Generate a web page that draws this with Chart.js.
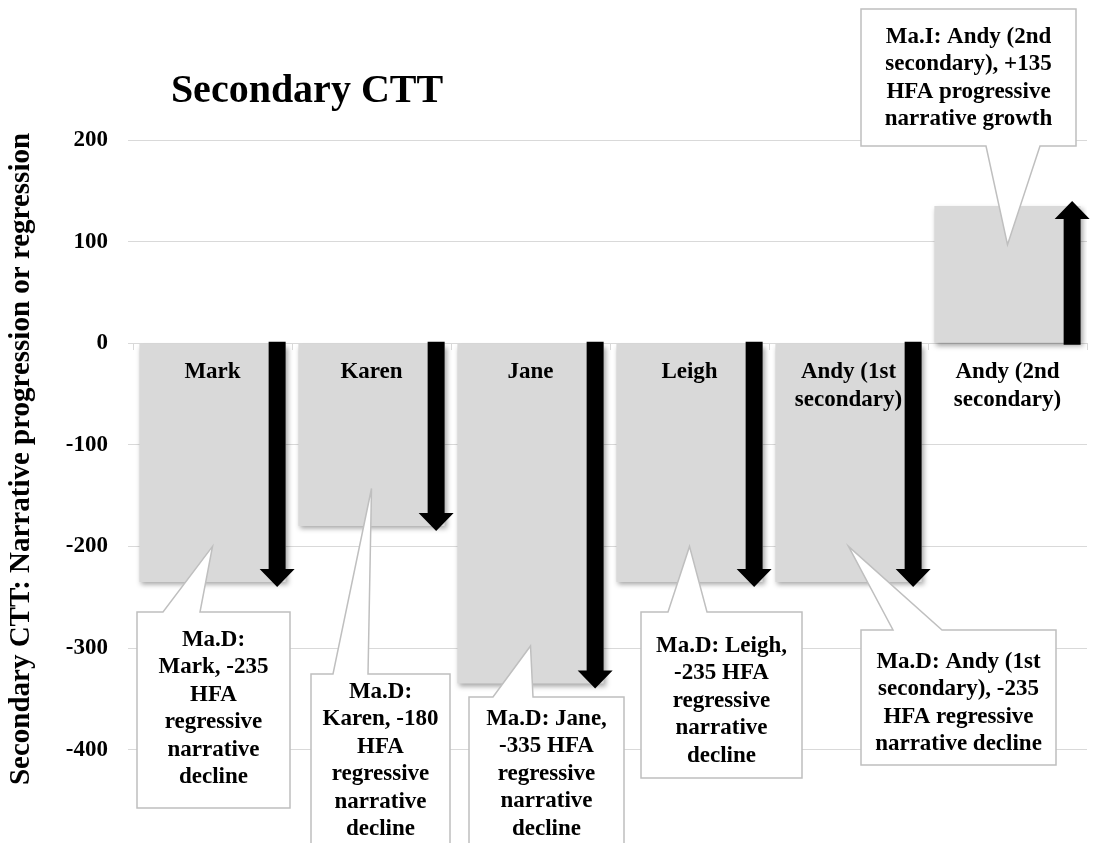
<!DOCTYPE html>
<html lang="en">
<head>
<meta charset="utf-8">
<title>Secondary CTT</title>
<script src="https://cdn.jsdelivr.net/npm/chart.js@4/dist/chart.umd.min.js"></script>
<style>
    html, body { margin: 0; padding: 0; background: #ffffff; overflow: hidden; }
    .chart-wrap { position: relative; width: 1093px; height: 885px; }
</style>
</head>
<body>
<div class="chart-wrap"><canvas id="cttChart"></canvas></div>
<script>
'use strict';

// Chart data
const categories = [
    ['Mark'],
    ['Karen'],
    ['Jane'],
    ['Leigh'],
    ['Andy (1st', 'secondary)'],
    ['Andy (2nd', 'secondary)']
];
const hfaValues = [-235, -180, -335, -235, -235, 135];
const yMin = -500;
const yMax = 200;
const yStep = 100;

const chartTitle = 'Secondary CTT';
const yAxisTitle = 'Secondary CTT: Narrative progression or regression';

// Callout texts, one list of lines per person
const calloutTexts = [
    ['Ma.D:', 'Mark, -235', 'HFA', 'regressive', 'narrative', 'decline'],
    ['Ma.D:', 'Karen, -180', 'HFA', 'regressive', 'narrative', 'decline'],
    ['Ma.D: Jane,', '-335 HFA', 'regressive', 'narrative', 'decline'],
    ['Ma.D: Leigh,', '-235 HFA', 'regressive', 'narrative', 'decline'],
    ['Ma.D: Andy (1st', 'secondary), -235', 'HFA regressive', 'narrative decline'],
    ['Ma.I: Andy (2nd', 'secondary), +135', 'HFA progressive', 'narrative growth']
];
// Where each callout points to, in data units
const calloutTipValues = [-200, -143, -298, -200, -200, 97];

// Callout box placement (pixels)
const calloutBoxes = [
    { x: 137, y: 612, w: 153, h: 196, side: 'top', b1: 163, b2: 200, textY: 640 },
    { x: 311, y: 674, w: 139, h: 300, side: 'top', b1: 333, b2: 368, textY: 692 },
    { x: 469, y: 697, w: 155, h: 300, side: 'top', b1: 493, b2: 533, textY: 719 },
    { x: 641, y: 612, w: 161, h: 166, side: 'top', b1: 668, b2: 707, textY: 646 },
    { x: 861, y: 630, w: 195, h: 135, side: 'top', b1: 893, b2: 942, textY: 662 },
    { x: 861, y: 9, w: 215, h: 137, side: 'bottom', b1: 986, b2: 1040, textY: 37 }
];

const FONT = "'Liberation Serif', 'Times New Roman', serif";
const TEXT_SIZE = 23;
const LINE_H = 27.5;

Chart.defaults.font.family = FONT;
Chart.defaults.color = '#000000';

/**
 * Chart title and rotated y axis title, drawn at fixed spots like the original
 */
const titlePlugin = {
    id: 'cttTitles',
    afterDraw(chart) {
        const ctx = chart.ctx;
        ctx.save();
        ctx.fillStyle = '#000000';
        ctx.textAlign = 'center';
        ctx.textBaseline = 'middle';
        ctx.font = `bold 40px ${FONT}`;
        ctx.fillText(chartTitle, 307, 92);

        ctx.translate(22, 459);
        ctx.rotate(-Math.PI / 2);
        ctx.font = `bold 29px ${FONT}`;
        ctx.fillText(yAxisTitle, 0, 0);
        ctx.restore();
    }
};

/**
 * Draw a block arrow from the zero line to the end of the bar
 */
function drawArrow(ctx, xRight, yStart, yTip) {
    const dir = yTip > yStart ? 1 : -1;
    const shaftW = 17;
    const headW = 35;
    const headL = 18;
    const cx = xRight - shaftW / 2;
    const headBase = yTip - dir * headL;

    ctx.beginPath();
    ctx.moveTo(cx - shaftW / 2, yStart);
    ctx.lineTo(cx + shaftW / 2, yStart);
    ctx.lineTo(cx + shaftW / 2, headBase);
    ctx.lineTo(cx + headW / 2, headBase);
    ctx.lineTo(cx, yTip);
    ctx.lineTo(cx - headW / 2, headBase);
    ctx.lineTo(cx - shaftW / 2, headBase);
    ctx.closePath();
    ctx.fill();
}

/**
 * Bar shadows plus the black arrows on each bar
 */
const barDecorPlugin = {
    id: 'barDecor',
    beforeDatasetsDraw(chart) {
        const ctx = chart.ctx;
        ctx.save();
        ctx.shadowColor = 'rgba(0, 0, 0, 0.35)';
        ctx.shadowBlur = 5;
        ctx.shadowOffsetX = 2;
        ctx.shadowOffsetY = 3;
    },
    afterDatasetsDraw(chart) {
        const ctx = chart.ctx;
        ctx.restore();

        const meta = chart.getDatasetMeta(0);
        ctx.save();
        ctx.fillStyle = '#000000';
        meta.data.forEach((bar) => {
            const p = bar.getProps(['x', 'y', 'base', 'width'], true);
            const dir = p.y > p.base ? 1 : -1;
            drawArrow(ctx, p.x + p.width / 2, p.base - dir * 2, p.y + dir * 5);
        });
        ctx.restore();
    }
};

/**
 * Draw one callout box with its pointer
 */
function drawCallout(ctx, box, tip, lines) {
    const right = box.x + box.w;
    const bottom = box.y + box.h;

    ctx.beginPath();
    if (box.side === 'top') {
        ctx.moveTo(box.x, box.y);
        ctx.lineTo(box.b1, box.y);
        ctx.lineTo(tip.x, tip.y);
        ctx.lineTo(box.b2, box.y);
        ctx.lineTo(right, box.y);
        ctx.lineTo(right, bottom);
        ctx.lineTo(box.x, bottom);
    } else {
        ctx.moveTo(box.x, box.y);
        ctx.lineTo(right, box.y);
        ctx.lineTo(right, bottom);
        ctx.lineTo(box.b2, bottom);
        ctx.lineTo(tip.x, tip.y);
        ctx.lineTo(box.b1, bottom);
        ctx.lineTo(box.x, bottom);
    }
    ctx.closePath();
    ctx.fillStyle = '#ffffff';
    ctx.fill();
    ctx.strokeStyle = '#bfbfbf';
    ctx.lineWidth = 1.5;
    ctx.stroke();

    ctx.fillStyle = '#000000';
    ctx.font = `bold ${TEXT_SIZE}px ${FONT}`;
    ctx.textAlign = 'center';
    ctx.textBaseline = 'middle';
    lines.forEach((line, i) => {
        ctx.fillText(line, box.x + box.w / 2, box.textY + i * LINE_H);
    });
}

const calloutPlugin = {
    id: 'callouts',
    afterDraw(chart) {
        const ctx = chart.ctx;
        const xScale = chart.scales.x;
        const yScale = chart.scales.y;
        ctx.save();
        calloutBoxes.forEach((box, i) => {
            const tip = {
                x: xScale.getPixelForValue(i),
                y: yScale.getPixelForValue(calloutTipValues[i])
            };
            drawCallout(ctx, box, tip, calloutTexts[i]);
        });
        ctx.restore();
    }
};

/**
 * Initialize chart
 */
function init() {
    const ctx = document.getElementById('cttChart');

    new Chart(ctx, {
        type: 'bar',
        data: {
            labels: categories,
            datasets: [{
                data: hfaValues,
                backgroundColor: '#d9d9d9',
                borderWidth: 0,
                barPercentage: 0.92,
                categoryPercentage: 1.0
            }]
        },
        options: {
            responsive: true,
            maintainAspectRatio: false,
            animation: false,
            layout: {
                padding: { top: 140, right: 6, bottom: 1.5, left: 0 }
            },
            plugins: {
                legend: { display: false },
                tooltip: { enabled: false },
                title: { display: false }
            },
            scales: {
                x: {
                    position: { y: 0 },
                    offset: true,
                    grid: {
                        display: true,
                        drawOnChartArea: false,
                        drawTicks: true,
                        tickLength: 7,
                        color: '#d9d9d9',
                        offset: true,
                        z: 1
                    },
                    border: { display: false },
                    ticks: {
                        color: '#000000',
                        font: { size: TEXT_SIZE, weight: 'bold', lineHeight: 1.2 },
                        padding: 8,
                        maxRotation: 0,
                        autoSkip: false,
                        z: 1
                    }
                },
                y: {
                    min: yMin,
                    max: yMax,
                    afterFit(scale) {
                        scale.width = 133;
                    },
                    grid: {
                        color: '#d9d9d9',
                        lineWidth: 1,
                        drawTicks: true,
                        tickLength: 5
                    },
                    border: { display: false },
                    ticks: {
                        stepSize: yStep,
                        color: '#000000',
                        font: { size: TEXT_SIZE, weight: 'bold' },
                        padding: 20,
                        callback: (value) => (value <= yMin ? '' : value)
                    }
                }
            }
        },
        plugins: [barDecorPlugin, calloutPlugin, titlePlugin]
    });
}

init();
</script>
</body>
</html>
